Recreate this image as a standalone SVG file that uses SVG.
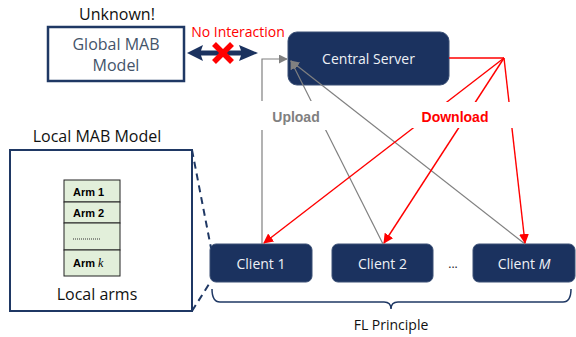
<svg xmlns="http://www.w3.org/2000/svg" width="576" height="337" viewBox="0 0 576 337">
<defs>
<style>
.t{font-family:"Open Sans","Noto Sans",sans-serif;}
.node{fill:#1B325F;stroke:#3A4F75;stroke-width:1}
.wt{fill:#EEF1F6;font-size:14px;text-anchor:middle}
.arm{font-family:"Liberation Sans",Arial,sans-serif;font-weight:bold;font-size:11px;fill:#000}
.row{fill:#E2EFDA;stroke:#222;stroke-width:1}
.up{stroke:#808080;stroke-width:1.2;fill:none}
.dn{stroke:#FF0000;stroke-width:1.4;fill:none}
</style>
<marker id="ag" viewBox="0 0 10 10" refX="9" refY="5" markerWidth="9" markerHeight="9" markerUnits="userSpaceOnUse" orient="auto"><path d="M0,0L10,5L0,10z" fill="#808080"/></marker>
<marker id="ar" viewBox="0 0 10 10" refX="9" refY="5" markerWidth="10" markerHeight="10" markerUnits="userSpaceOnUse" orient="auto"><path d="M0,0L10,5L0,10z" fill="#FF0000"/></marker>
</defs>
<rect width="576" height="337" fill="#fff"/>

<g id="unknown-label">
<text class="t" x="117" y="20" font-size="16" fill="#111" text-anchor="middle">Unknown!</text>
</g>
<g id="no-interaction-label">
<text class="t" x="238" y="37" font-size="14" fill="#FF0000" text-anchor="middle">No Interaction</text>
</g>

<g id="global-model">
<rect x="48" y="27" width="136" height="54" fill="#fff" stroke="#1F3864" stroke-width="2.5"/>
<text class="t" x="116" y="50" font-size="16" fill="#44546A" text-anchor="middle">Global MAB</text>
<text class="t" x="116" y="71" font-size="16" fill="#44546A" text-anchor="middle">Model</text>
</g>

<g id="central-server">
<rect class="node" x="288" y="32" width="161" height="53" rx="9"/>
<text class="t wt" x="368.5" y="64">Central Server</text>
</g>

<g id="client-1">
<rect class="node" x="210" y="244" width="102" height="38" rx="6"/>
<text class="t wt" x="261" y="269">Client 1</text>
</g>
<g id="client-2">
<rect class="node" x="332" y="244" width="101" height="38" rx="6"/>
<text class="t wt" x="382.5" y="269">Client 2</text>
</g>
<g id="ellipsis">
<text class="t" x="453" y="268" font-size="12" fill="#222" text-anchor="middle">...</text>
</g>
<g id="client-m">
<rect class="node" x="473" y="244" width="102" height="38" rx="6"/>
<text class="t wt" x="524" y="269">Client <tspan font-style="italic">M</tspan></text>
</g>

<g id="fl-principle">
<text class="t" x="391" y="330" font-size="14" fill="#111" text-anchor="middle">FL Principle</text>
</g>

<g id="local-model">
<text class="t" x="97" y="142" font-size="16" fill="#111" text-anchor="middle">Local MAB Model</text>
<rect x="10" y="150" width="182" height="161" fill="#fff" stroke="#1F3864" stroke-width="2"/>
<rect class="row" x="64" y="180" width="56" height="22"/>
<rect class="row" x="64" y="202" width="56" height="21"/>
<rect class="row" x="64" y="223" width="56" height="27"/>
<rect class="row" x="64" y="250" width="56" height="26"/>
<text class="arm" x="73" y="196">Arm 1</text>
<text class="arm" x="73" y="217">Arm 2</text>
<line x1="73" y1="239" x2="100" y2="239" stroke="#333" stroke-width="1" stroke-dasharray="1,1"/>
<text class="arm" x="73" y="267">Arm <tspan font-family="Liberation Serif,Times New Roman,serif" font-style="italic" font-weight="normal" font-size="12">k</tspan></text>
<text class="t" x="97" y="300" font-size="16" fill="#111" text-anchor="middle">Local arms</text>
</g>

<g id="connectors">
<polyline class="up" points="262,244 262,59 287,59" marker-end="url(#ag)"/>
<line class="up" x1="383" y1="244" x2="291" y2="61" marker-end="url(#ag)"/>
<line class="up" x1="525" y1="244" x2="291" y2="61" marker-end="url(#ag)"/>
<polyline class="dn" points="449,58 504,58"/>
<line class="dn" x1="504" y1="58" x2="264" y2="243" marker-end="url(#ar)"/>
<line class="dn" x1="504" y1="58" x2="384" y2="243" marker-end="url(#ar)"/>
<line class="dn" x1="504" y1="58" x2="525" y2="243" marker-end="url(#ar)"/>
<line x1="192" y1="150" x2="211" y2="248" stroke="#1F3864" stroke-width="2" stroke-dasharray="7,5"/>
<line x1="192" y1="311" x2="211" y2="281" stroke="#1F3864" stroke-width="2" stroke-dasharray="7,5"/>
<path d="M212,289 Q212,302 220,302 L384,302 Q391,302 391,309 Q391,302 398,302 L563,302 Q571,302 571,289" fill="none" stroke="#1F3864" stroke-width="1.5"/>
<path d="M187,53 L203,45 L201,50.5 L241,50.5 L239,45 L258,53 L239,61 L241,55.5 L201,55.5 L203,61 Z" fill="#1B325F"/>
<g stroke="#FF0000" stroke-width="5.5" stroke-linecap="butt">
<line x1="214" y1="44" x2="232" y2="62"/>
<line x1="232" y1="44" x2="214" y2="62"/>
</g>
</g>

<g id="label-upload">
<rect x="256" y="101" width="82" height="29" fill="#fff"/>
<text x="296" y="122" font-family="Liberation Sans,Arial,sans-serif" font-weight="bold" font-size="14" fill="#808080" text-anchor="middle">Upload</text>
</g>
<g id="label-download">
<rect x="405" y="102" width="111" height="26" fill="#fff"/>
<text x="455" y="122" font-family="Liberation Sans,Arial,sans-serif" font-weight="bold" font-size="14" fill="#FF0000" text-anchor="middle">Download</text>
</g>
</svg>
